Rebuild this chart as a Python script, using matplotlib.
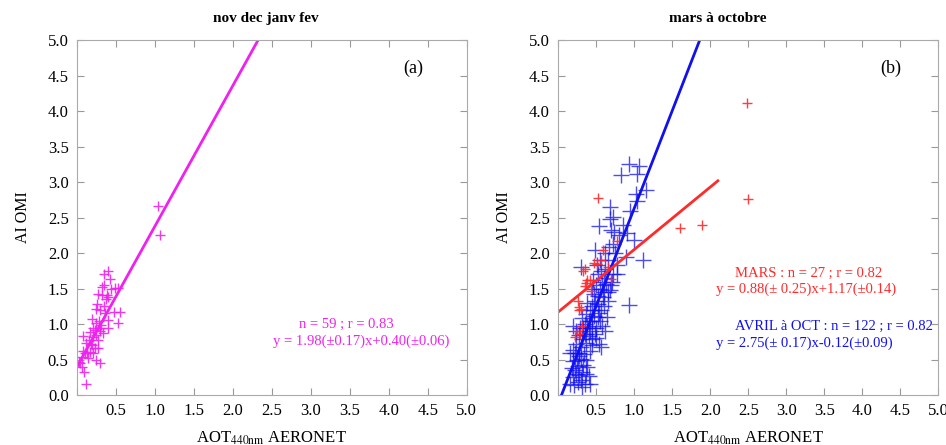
import matplotlib
matplotlib.use("Agg")
import matplotlib.pyplot as plt
import numpy as np

plt.rcParams["font.family"] = ["Liberation Serif", "DejaVu Serif"]
plt.rcParams["mathtext.fontset"] = "stix"

# panel (a): nov-feb, AOT vs AI
win_x = [1.04, 1.07, 0.40, 0.34, 0.42, 0.34, 0.32, 0.44, 0.49, 0.53,
         0.32, 0.38, 0.27, 0.40, 0.26, 0.25, 0.29, 0.47, 0.55, 0.36,
         0.40, 0.19, 0.25, 0.31, 0.53, 0.40, 0.23, 0.29, 0.33, 0.17,
         0.21, 0.27, 0.08, 0.12, 0.19, 0.23, 0.27, 0.17, 0.10, 0.21,
         0.06, 0.14, 0.25, 0.04, 0.29, 0.06, 0.09, 0.11, 0.03, 0.15,
         0.20, 0.28, 0.35, 0.13, 0.24, 0.18, 0.30, 0.08, 0.37]
win_y = [2.66, 2.25, 1.75, 1.71, 1.63, 1.55, 1.52, 1.49, 1.51, 1.51,
         1.41, 1.41, 1.43, 1.38, 1.29, 1.21, 1.20, 1.17, 1.17, 1.16,
         1.06, 1.07, 1.01, 0.99, 1.01, 0.94, 0.92, 0.90, 0.87, 0.89,
         0.82, 0.77, 0.83, 0.73, 0.70, 0.66, 0.66, 0.61, 0.59, 0.59,
         0.54, 0.52, 0.50, 0.45, 0.45, 0.40, 0.32, 0.16, 0.47, 0.78,
         0.95, 1.05, 1.25, 0.60, 0.85, 0.72, 0.95, 0.62, 1.35]
win_fit = (1.98, 0.40)

# panel (b): mars
mar_x = [2.48, 2.50, 1.89, 1.60, 0.52, 0.77, 0.59, 0.47, 0.51, 0.56,
         0.66, 0.70, 0.35, 0.33, 0.37, 0.42, 0.35, 0.43, 0.26, 0.27,
         0.28, 0.30, 0.25, 0.22, 0.29, 0.38, 0.32]
mar_y = [4.12, 2.76, 2.39, 2.35, 2.78, 2.17, 2.04, 1.86, 1.85, 1.90,
         1.81, 1.64, 1.78, 1.75, 1.58, 1.62, 1.54, 1.47, 1.32, 1.24,
         1.20, 1.21, 0.91, 0.82, 0.86, 1.62, 0.97]
mar_fit = (0.88, 1.17)

# panel (b): avril a octobre
oct_x = [0.93, 1.06, 1.04, 0.82, 1.15, 1.03, 1.04, 0.68, 0.54, 0.68,
         0.72, 0.70, 0.74, 0.91, 1.00, 0.72, 0.67, 0.48, 0.89, 1.12,
         0.55, 0.51, 0.57, 0.77, 0.72, 0.30, 0.63, 0.68, 0.55, 0.47,
         0.59, 0.53, 0.65, 0.93, 0.44, 0.37, 0.47, 0.40, 0.55, 0.50,
         0.42, 0.62, 0.35, 0.44, 0.54, 0.45, 0.20, 0.24, 0.31, 0.24,
         0.16, 0.22, 0.27, 0.30, 0.20, 0.26, 0.33, 0.31, 0.20, 0.37,
         0.26, 0.35, 0.42, 0.15, 0.21, 0.32, 0.40, 0.60, 0.62, 0.58,
         0.50, 0.45, 0.66, 0.70, 0.52, 0.48, 0.56, 0.60, 0.42, 0.45,
         0.52, 0.38, 0.33, 0.40, 0.48, 0.36, 0.30, 0.28, 0.25, 0.34,
         0.22, 0.28, 0.18, 0.36, 0.44, 0.58, 0.64, 0.78, 0.75, 0.80,
         0.62, 0.85, 0.95, 0.52, 0.46, 0.38, 0.32, 0.27, 0.19, 0.24,
         0.30, 0.38, 0.42, 0.50, 0.57, 0.35, 0.60, 0.66, 0.71, 0.54,
         0.29, 0.47]
oct_y = [3.26, 3.22, 3.11, 3.10, 2.89, 2.83, 2.74, 2.65, 2.38, 2.48,
         2.51, 2.32, 2.30, 2.28, 2.19, 2.13, 2.08, 2.05, 1.95, 1.90,
         1.90, 1.83, 1.75, 1.83, 1.71, 1.81, 1.57, 1.48, 1.50, 1.43,
         1.38, 1.29, 1.32, 1.27, 1.26, 1.14, 1.11, 1.04, 1.04, 0.95,
         0.91, 0.91, 0.86, 0.79, 0.72, 0.70, 0.98, 0.91, 0.79, 0.72,
         0.59, 0.59, 0.60, 0.51, 0.48, 0.41, 0.43, 0.33, 0.26, 0.30,
         0.18, 0.16, 0.16, 0.16, 0.14, 0.12, 0.27, 1.65, 1.78, 1.60,
         1.55, 1.50, 1.45, 1.55, 1.40, 1.33, 1.20, 1.25, 1.20, 1.05,
         1.10, 0.98, 0.95, 0.84, 0.86, 0.74, 0.68, 0.55, 0.50, 0.58,
         0.35, 0.28, 0.38, 0.50, 0.95, 0.98, 1.10, 1.70, 2.00, 2.25,
         2.00, 2.40, 2.60, 1.70, 1.62, 1.30, 1.08, 0.85, 0.63, 0.30,
         0.22, 0.40, 0.62, 0.80, 0.68, 1.00, 1.45, 1.90, 1.60, 1.15,
         0.95, 1.20]
oct_fit = (2.75, -0.12)

MAG = "#f020f0"
RED = "#ff2a2a"
BLUE = "#1010f0"

ticks = np.arange(0, 5.01, 0.5)


def style_axes(ax):
    ax.set_xlim(0, 5)
    ax.set_ylim(0, 5)
    ax.set_xticks(ticks)
    ax.set_yticks(ticks)
    ax.set_xticklabels([""] + [f"{t:.1f}" for t in ticks[1:]])
    ax.set_yticklabels([f"{t:.1f}" for t in ticks])
    ax.tick_params(direction="in", top=True, right=True, length=5,
                   color="#999999", labelsize=12, pad=6)
    for s in ax.spines.values():
        s.set_color("#aaaaaa")
    ax.set_xlabel(r"AOT$_{\rm 440nm}$ AERONET", fontsize=12, labelpad=7)
    ax.set_ylabel("AI OMI", fontsize=11.5, labelpad=12)


def fit_line(ax, fit, x0, x1, color):
    a, b = fit
    xs = np.array([x0, x1])
    ax.plot(xs, a * xs + b, color=color, lw=2, clip_on=True)


fig = plt.figure(figsize=(9.46, 4.45), dpi=100)
ax1 = fig.add_axes([0.0814, 0.112, 0.412, 0.798])
ax2 = fig.add_axes([0.590, 0.112, 0.402, 0.798])

# (a)
ax1.plot(win_x, win_y, "+", color=MAG, ms=7, mew=1.0, alpha=0.9)
fit_line(ax1, win_fit, 0.0, (5 - win_fit[1]) / win_fit[0], MAG)
style_axes(ax1)
ax1.text(0.485, 1.06, "nov dec janv fev", transform=ax1.transAxes,
         ha="center", va="center", fontsize=11, fontweight="bold")
ax1.text(4.31, 4.6, "(a)", fontsize=13, ha="center", va="center")
ax1.text(3.45, 1.0, "n = 59 ; r = 0.83", color=MAG, fontsize=10.5,
         ha="center", va="center")
ax1.text(3.65, 0.76, "y = 1.98(\u00b10.17)x+0.40(\u00b10.06)", color=MAG,
         fontsize=10.5, ha="center", va="center")

# (b)
ax2.plot(oct_x, oct_y, "+", color=BLUE, ms=11, mew=1.0, alpha=0.75)
ax2.plot(mar_x, mar_y, "+", color=RED, ms=7, mew=1.0, alpha=0.9)
fit_line(ax2, oct_fit, -oct_fit[1] / oct_fit[0], (5 - oct_fit[1]) / oct_fit[0], BLUE)
fit_line(ax2, mar_fit, 0.0, 2.1, RED)
style_axes(ax2)
ax2.text(0.42, 1.06, "mars \u00e0 octobre", transform=ax2.transAxes,
         ha="center", va="center", fontsize=11, fontweight="bold")
ax2.text(4.37, 4.6, "(b)", fontsize=13, ha="center", va="center")
ax2.text(2.33, 1.72, "MARS : n = 27 ; r = 0.82", color=RED, fontsize=10.5,
         ha="left", va="center")
ax2.text(2.08, 1.49, "y = 0.88(\u00b1 0.25)x+1.17(\u00b10.14)", color=RED,
         fontsize=10.5, ha="left", va="center")
ax2.text(2.33, 0.97, "AVRIL \u00e0 OCT : n = 122 ; r = 0.82", color=BLUE,
         fontsize=10.5, ha="left", va="center", clip_on=False)
ax2.text(2.08, 0.73, "y = 2.75(\u00b1 0.17)x-0.12(\u00b10.09)", color=BLUE,
         fontsize=10.5, ha="left", va="center")

fig.savefig("out.png", dpi=100)
